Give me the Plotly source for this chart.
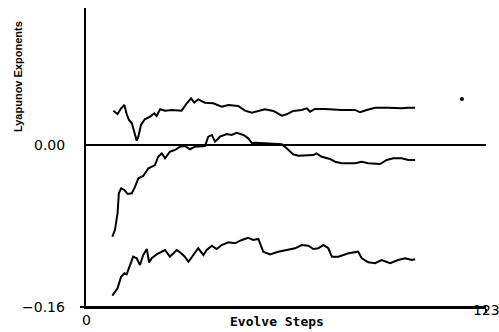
import plotly.graph_objects as go

# Top exponent
top_steps = [8.4, 9.7, 10.8, 11.8, 12.5, 13.2, 14.1, 14.9, 15.6, 16.1, 16.9, 18.1, 19.7, 21.0, 21.7,
             22.8, 24.3, 26.4, 29.4, 31.0, 32.3, 33.3, 34.5, 36.6, 39.1, 41.7, 43.8, 46.8, 48.9, 51.0,
             53.0, 55.0, 57.6, 60.2, 61.7, 63.7, 66.3, 67.9, 68.9, 70.4, 73.5, 78.6, 82.7, 84.3, 86.3,
             88.9, 93.0, 97.1, 99.1, 101.2]
top_vals = [0.0339, 0.0306, 0.0362, 0.0395, 0.0306, 0.0247, 0.0214, 0.0131, 0.0042, 0.0082, 0.0198,
            0.0254, 0.0280, 0.0313, 0.0286, 0.0353, 0.0339, 0.0346, 0.0339, 0.0412, 0.0461, 0.0418,
            0.0451, 0.0418, 0.0412, 0.0378, 0.0395, 0.0385, 0.0339, 0.0319, 0.0339, 0.0353, 0.0336,
            0.0289, 0.0303, 0.0336, 0.0346, 0.0362, 0.0329, 0.0356, 0.0356, 0.0346, 0.0346, 0.0323,
            0.0346, 0.0368, 0.0368, 0.0362, 0.0368, 0.0368]

# Middle exponent
mid_steps = [8.1, 8.9, 9.7, 10.1, 10.8, 11.8, 12.8, 14.1, 15.1, 16.1, 17.6, 19.2, 21.2, 22.2, 23.3,
             24.3, 25.8, 27.4, 28.9, 30.4, 32.0, 33.5, 36.6, 37.6, 38.7, 39.7, 41.2, 43.3, 44.8, 46.3,
             48.4, 49.9, 51.0, 52.0, 55.0, 60.2, 61.7, 63.7, 65.3, 69.9, 70.9, 72.5, 75.0, 76.6, 78.6,
             82.7, 84.8, 86.8, 90.4, 92.5, 94.5, 97.1, 99.1, 101.2]
mid_vals = [-0.0906, -0.0840, -0.0675, -0.0477, -0.0428, -0.0444, -0.0484, -0.0477, -0.0412, -0.0329,
            -0.0306, -0.0230, -0.0198, -0.0116, -0.0082, -0.0131, -0.0066, -0.0049, -0.0017, -0.0010,
            -0.0042, -0.0017, -0.0010, 0.0082, 0.0099, 0.0033, 0.0082, 0.0109, 0.0099, 0.0121, 0.0099,
            0.0066, 0.0017, 0.0023, 0.0017, 0.0007, -0.0033, -0.0092, -0.0106, -0.0099, -0.0082,
            -0.0116, -0.0138, -0.0165, -0.0181, -0.0181, -0.0165, -0.0181, -0.0188, -0.0148, -0.0131,
            -0.0131, -0.0148, -0.0148]

# Bottom exponent
bot_steps = [8.1, 9.7, 10.8, 11.8, 12.5, 13.5, 14.5, 15.6, 16.6, 17.6, 18.7, 19.4, 20.2, 21.7, 23.3,
             24.3, 25.8, 27.9, 28.9, 30.4, 31.5, 33.0, 34.5, 36.1, 37.1, 38.7, 40.2, 41.7, 43.8, 45.8,
             47.9, 49.9, 51.4, 53.0, 54.5, 56.6, 59.1, 61.7, 64.3, 66.3, 68.4, 69.9, 71.4, 73.0, 74.5,
             75.6, 77.6, 80.7, 83.7, 84.8, 86.8, 88.9, 90.9, 93.5, 96.0, 98.1, 100.2, 101.2]
bot_vals = [-0.1488, -0.1415, -0.1301, -0.1267, -0.1277, -0.1185, -0.1103, -0.1119, -0.1185, -0.1086,
            -0.1027, -0.1159, -0.1119, -0.1080, -0.1054, -0.1037, -0.1103, -0.1037, -0.1060, -0.1103,
            -0.1153, -0.1086, -0.1020, -0.1086, -0.1037, -0.0995, -0.1027, -0.0988, -0.0961, -0.0971,
            -0.0938, -0.0916, -0.0938, -0.0928, -0.1054, -0.1080, -0.1054, -0.1037, -0.1020, -0.0988,
            -0.0995, -0.1027, -0.1020, -0.0988, -0.1020, -0.1103, -0.1103, -0.1070, -0.1054, -0.1119,
            -0.1159, -0.1168, -0.1136, -0.1168, -0.1136, -0.1119, -0.1136, -0.1129]

dot_step = [115.6]
dot_val = [0.0454]

x_ticks = [0, 123]
x_tick_labels = ["0", "123"]
y_ticks = [-0.16, 0.0]
y_tick_labels = ["\u22120.16", "0.00"]

fig = go.Figure()
line_style = dict(color="black", width=2)
for xs, ys in [(top_steps, top_vals), (mid_steps, mid_vals), (bot_steps, bot_vals)]:
    fig.add_trace(go.Scatter(x=xs, y=ys, mode="lines", line=line_style, hoverinfo="skip"))
fig.add_trace(go.Scatter(x=dot_step, y=dot_val, mode="markers",
                         marker=dict(color="black", size=4), hoverinfo="skip"))

tick_font = dict(family="DejaVu Sans", size=14, color="black")

annotations = [
    dict(x=x_ticks[0], y=0, xref="x", yref="paper", text=x_tick_labels[0], showarrow=False,
         xanchor="center", yanchor="middle", yshift=-13, font=tick_font),
    dict(x=x_ticks[1], y=0, xref="x", yref="paper", text=x_tick_labels[1], showarrow=False,
         xanchor="center", yanchor="middle", yshift=-3, font=tick_font),
    dict(x=0, y=y_ticks[0], xref="paper", yref="y", text=y_tick_labels[0], showarrow=False,
         xanchor="right", yanchor="middle", xshift=-19, font=tick_font),
    dict(x=0, y=y_ticks[1], xref="paper", yref="y", text=y_tick_labels[1], showarrow=False,
         xanchor="right", yanchor="middle", xshift=-19, font=tick_font),
    dict(x=58.7, y=0, xref="x", yref="paper", text="Evolve Steps", showarrow=False,
         xanchor="center", yanchor="middle", yshift=-14,
         font=dict(family="DejaVu Sans Mono", size=13, color="black", weight="bold")),
    dict(x=0, y=0.769, xref="paper", yref="paper", text="Lyapunov Exponents", showarrow=False,
         xanchor="center", yanchor="middle", xshift=-68, textangle=-90,
         font=dict(family="Liberation Sans", size=11, color="black", weight="bold")),
]

fig.update_layout(
    width=499, height=332,
    margin=dict(l=86, r=13, t=8, b=25),
    paper_bgcolor="white", plot_bgcolor="white",
    showlegend=False,
    annotations=annotations,
    # bottom frame edge of the plot area (axis frame, not data)
    shapes=[dict(type="line", xref="paper", yref="paper", x0=0, x1=1, y0=0, y1=0,
                 line=dict(color="black", width=2), layer="above")],
    xaxis=dict(range=[0, 123], showgrid=False, zeroline=False, showline=True,
               linecolor="black", linewidth=2, tickvals=[123], ticks="outside",
               ticklen=4, tickwidth=2, tickcolor="black", showticklabels=False),
    yaxis=dict(range=[-0.16, 0.1353], showgrid=False, zeroline=True, zerolinecolor="black",
               zerolinewidth=2, showline=True, linecolor="black", linewidth=2,
               tickvals=[-0.16], ticks="outside", ticklen=4, tickwidth=2, tickcolor="black",
               showticklabels=False),
)

# remove the default page margin so the 499x332 figure fills the window exactly
fig.write_html("out.html", config={"displayModeBar": False},
               post_script="document.body.style.margin='0';document.body.style.overflow='hidden';")
